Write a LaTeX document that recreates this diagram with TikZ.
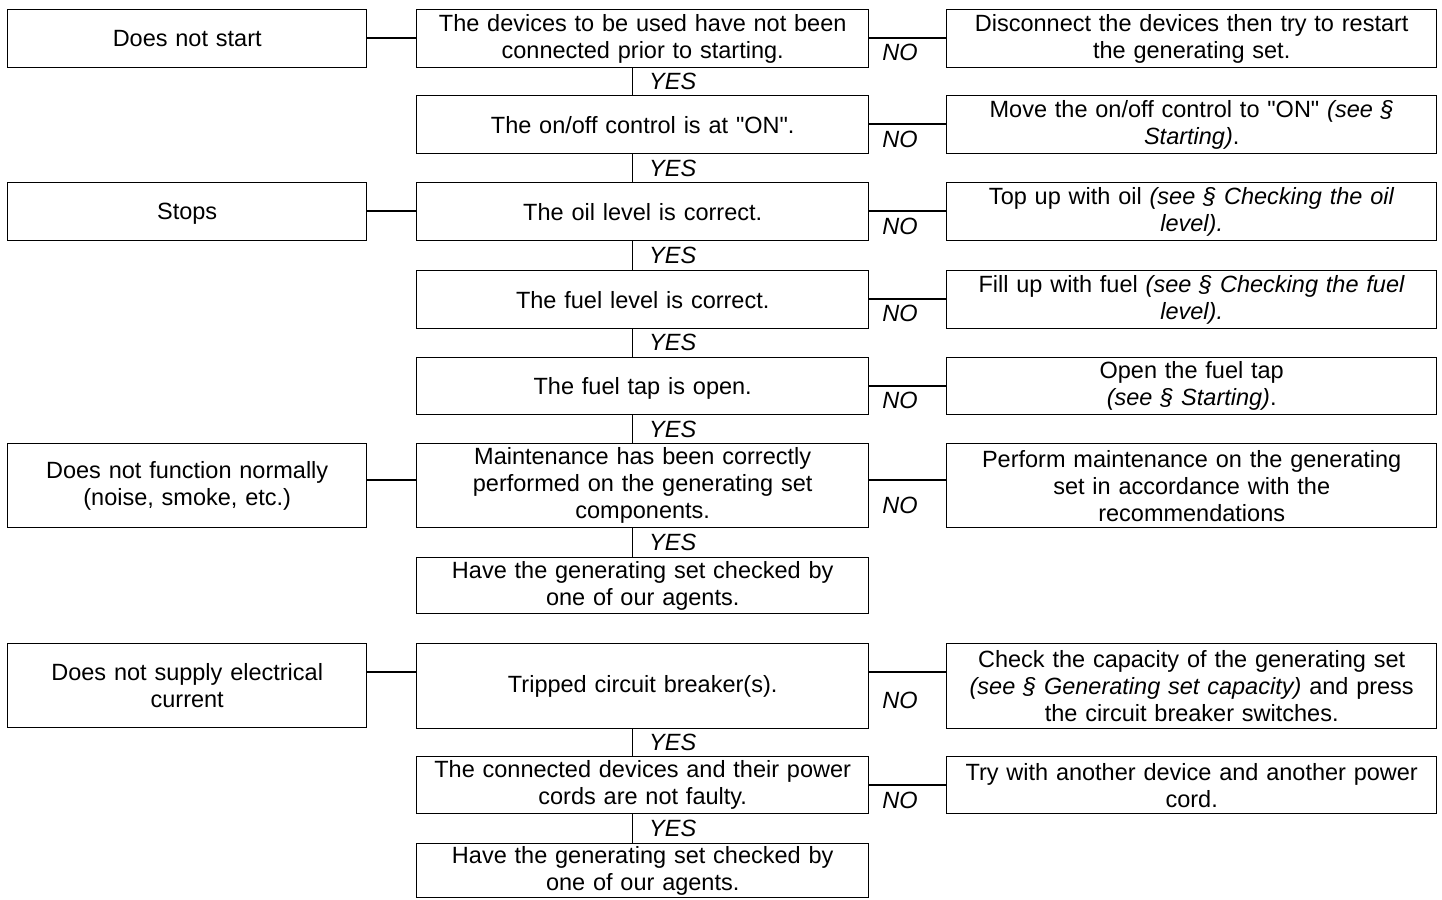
\documentclass[tikz,border=0pt]{standalone}
\usepackage{fontspec}
\setmainfont{Liberation Sans}[Ligatures=TeXOff]
\usetikzlibrary{positioning}

\begin{document}
\begin{tikzpicture}[
  x=1pt, y=-1pt,
  box/.style={draw, line width=1.4pt, inner sep=0pt, anchor=north west, align=center,
              font=\fontsize{23.5}{27}\selectfont},
  symptom/.style={box, text width=359pt},
  check/.style={box, text width=452pt},
  remedy/.style={box, text width=490pt},
  answer/.style={inner sep=0pt, font=\fontsize{23.5}{27}\selectfont\itshape},
  link/.style={line width=1.4pt}
]
  \useasboundingbox (0,0) rectangle (1442,899);

  % symptoms
  \node[symptom, minimum height=58pt] (s1) at (7,9)   {Does not start};
  \node[symptom, minimum height=58pt] (s2) at (7,182) {\raisebox{0pt}[\height][0pt]{Stops}};
  \node[symptom, minimum height=84pt] (s3) at (7,443) {Does not function normally\\(noise, smoke, etc.)};
  \node[symptom, minimum height=84pt] (s4) at (7,643) {Does not supply electrical\\current};

  % checks
  \node[check, minimum height=58pt] (c1)  at (416,9)   {The devices to be used have not been\\connected prior to starting.};
  \node[check, minimum height=58pt] (c2)  at (416,95)  {The on/off control is at "ON".};
  \node[check, minimum height=58pt] (c3)  at (416,182) {The oil level is correct.};
  \node[check, minimum height=58pt] (c4)  at (416,270) {The fuel level is correct.};
  \node[check, minimum height=57pt] (c5)  at (416,357) {\raisebox{0pt}[\height][0pt]{The fuel tap is open.}};
  \node[check, minimum height=84pt] (c6)  at (416,443) {Maintenance has been correctly\\performed on the generating set\\components.};
  \node[check, minimum height=56pt] (c7)  at (416,557) {Have the generating set checked by\\one of our agents.};
  \node[check, minimum height=85pt] (c8)  at (416,643) {Tripped circuit breaker(s).};
  \node[check, minimum height=57pt] (c9)  at (416,756) {The connected devices and their power\\cords are not faulty.};
  \node[check, minimum height=54pt] (c10) at (416,843) {Have the generating set checked by\\one of our agents.};

  % remedies
  \node[remedy, minimum height=58pt] (r1) at (946,9)   {Disconnect the devices then try to restart\\the generating set.};
  \node[remedy, minimum height=58pt] (r2) at (946,95)  {Move the on/off control to "ON" \textit{(see §}\\\textit{Starting)}.};
  \node[remedy, minimum height=58pt] (r3) at (946,182) {Top up with oil \textit{(see § Checking the oil}\\\textit{level).}};
  \node[remedy, minimum height=58pt] (r4) at (946,270) {Fill up with fuel \textit{(see § Checking the fuel}\\\textit{level).}};
  \node[remedy, minimum height=57pt] (r5) at (946,357) {Open the fuel tap\\\textit{(see § Starting)}.};
  \node[remedy, minimum height=84pt] (r6) at (946,443) {Perform maintenance on the generating\\set in accordance with the\\recommendations};
  \node[remedy, minimum height=85pt] (r8) at (946,643) {Check the capacity of the generating set\\\textit{(see § Generating set capacity)} and press\\the circuit breaker switches.};
  \node[remedy, minimum height=57pt] (r9) at (946,756) {Try with another device and another power\\cord.};

  % symptom -> first check
  \draw[link] ([yshift=-29pt]s1.north east) -- ([yshift=-29pt]c1.north west);
  \draw[link] ([yshift=-29pt]s2.north east) -- ([yshift=-29pt]c3.north west);
  \draw[link] ([yshift=-37pt]s3.north east) -- ([yshift=-37pt]c6.north west);
  \draw[link] ([yshift=-29pt]s4.north east) -- ([yshift=-29pt]c8.north west);

  % NO branches
  \draw[link] ([yshift=-29pt]c1.north east) -- ([yshift=-29pt]r1.north west);
  \draw[link] ([yshift=-29pt]c2.north east) -- ([yshift=-29pt]r2.north west);
  \draw[link] ([yshift=-29pt]c3.north east) -- ([yshift=-29pt]r3.north west);
  \draw[link] ([yshift=-29pt]c4.north east) -- ([yshift=-29pt]r4.north west);
  \draw[link] ([yshift=-29pt]c5.north east) -- ([yshift=-29pt]r5.north west);
  \draw[link] ([yshift=-37pt]c6.north east) -- ([yshift=-37pt]r6.north west);
  \draw[link] ([yshift=-29pt]c8.north east) -- ([yshift=-29pt]r8.north west);
  \draw[link] ([yshift=-29pt]c9.north east) -- ([yshift=-29pt]r9.north west);

  \node[answer] (n1) at (900,52)  {NO};
  \node[answer] (n2) at (900,139) {NO};
  \node[answer] (n3) at (900,226) {NO};
  \node[answer] (n4) at (900,313) {NO};
  \node[answer] (n5) at (900,400) {NO};
  \node[answer] (n6) at (900,505) {NO};
  \node[answer] (n8) at (900,700) {NO};
  \node[answer] (n9) at (900,800) {NO};

  % YES chain
  \draw[link] ([xshift=-10pt]c1.south) -- ([xshift=-10pt]c2.north);
  \draw[link] ([xshift=-10pt]c2.south) -- ([xshift=-10pt]c3.north);
  \draw[link] ([xshift=-10pt]c3.south) -- ([xshift=-10pt]c4.north);
  \draw[link] ([xshift=-10pt]c4.south) -- ([xshift=-10pt]c5.north);
  \draw[link] ([xshift=-10pt]c5.south) -- ([xshift=-10pt]c6.north);
  \draw[link] ([xshift=-10pt]c6.south) -- ([xshift=-10pt]c7.north);
  \draw[link] ([xshift=-10pt]c8.south) -- ([xshift=-10pt]c9.north);
  \draw[link] ([xshift=-10pt]c9.south) -- ([xshift=-10pt]c10.north);

  \node[answer, anchor=west] (y1) at (649,81)  {YES};
  \node[answer, anchor=west] (y2) at (649,168) {YES};
  \node[answer, anchor=west] (y3) at (649,255) {YES};
  \node[answer, anchor=west] (y4) at (649,342) {YES};
  \node[answer, anchor=west] (y5) at (649,429) {YES};
  \node[answer, anchor=west] (y6) at (649,542) {YES};
  \node[answer, anchor=west] (y8) at (649,742) {YES};
  \node[answer, anchor=west] (y9) at (649,828) {YES};
\end{tikzpicture}
\end{document}
